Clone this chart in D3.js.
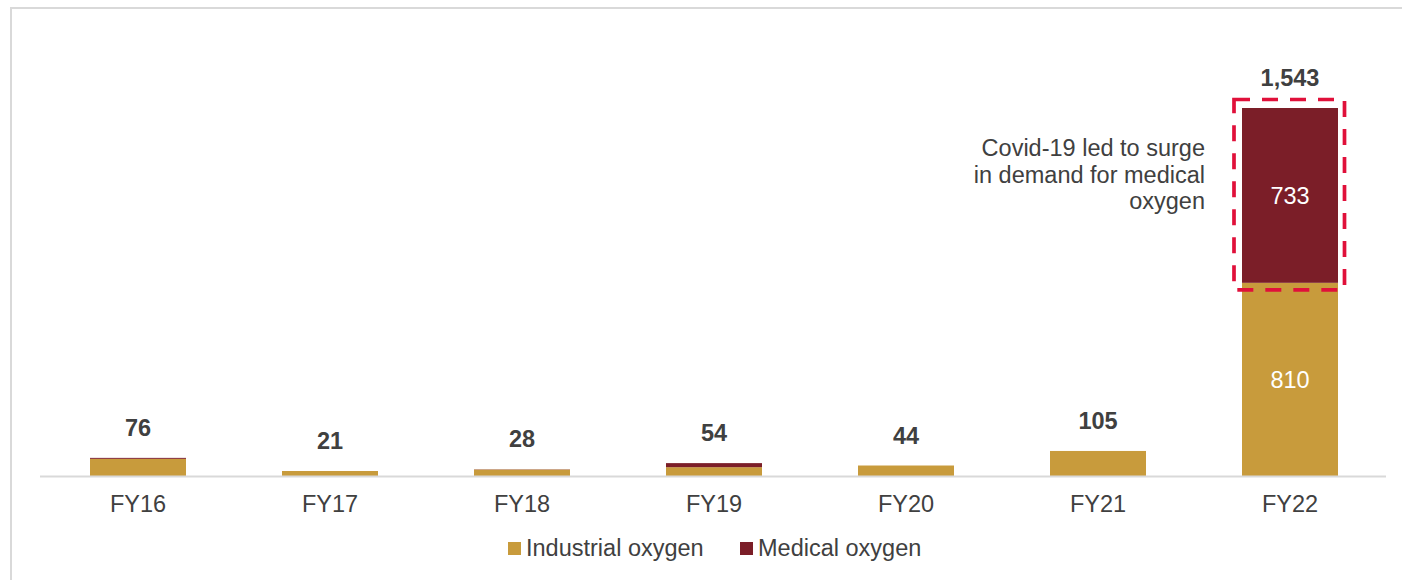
<!DOCTYPE html>
<html>
<head>
<meta charset="utf-8">
<script src="https://cdn.jsdelivr.net/npm/d3@7/dist/d3.min.js"></script>
<style>
  html, body { margin: 0; padding: 0; background: #fff; }
  svg { display: block; font-family: "Liberation Sans", Arial, sans-serif; }
</style>
</head>
<body>
<svg id="chart" width="1402" height="580"></svg>
<script>
// Oxygen demand by fiscal year, split by end use
const categories = ["FY16", "FY17", "FY18", "FY19", "FY20", "FY21", "FY22"];
const industrial = [72, 21, 27, 37, 44, 105, 810];
const medical    = [4, 0, 1, 17, 0, 0, 733];
const totals     = [76, 21, 28, 54, 44, 105, 1543];
const seriesNames = ["Industrial oxygen", "Medical oxygen"];
const colors = ["#C89B3C", "#7B1E28"];
const noteLines = ["Covid-19 led to surge", "in demand for medical", "oxygen"];

const svg = d3.select("#chart");
const W = 1402, H = 580;
const textColor = "#404040";

// light frame along the top and left edges
svg.append("path")
  .attr("d", `M11,${H + 2} L11,8 L${W + 4},8`)
  .attr("fill", "none")
  .attr("stroke", "#D9D9D9")
  .attr("stroke-width", 2);

const x = d3.scaleBand()
  .domain(categories)
  .range([42, 1386])
  .paddingInner(0.5)
  .paddingOuter(0.25);

const baseline = 476;
const y = d3.scaleLinear()
  .domain([0, 1543])
  .range([baseline, 108]);

const rows = categories.map((c, i) => ({ cat: c, ind: industrial[i], med: medical[i], total: totals[i] }));
const stack = d3.stack().keys(["ind", "med"])(rows);

svg.append("g")
  .selectAll("g")
  .data(stack)
  .join("g")
  .attr("fill", (d, i) => colors[i])
  .selectAll("rect")
  .data(d => d)
  .join("rect")
  .attr("x", d => x(d.data.cat))
  .attr("width", x.bandwidth())
  .attr("y", d => y(d[1]))
  .attr("height", d => y(d[0]) - y(d[1]));

// baseline axis
const axis = svg.append("g")
  .attr("transform", `translate(0,${baseline})`)
  .call(d3.axisBottom(x).tickSize(0).tickPadding(0));
axis.select(".domain")
  .attr("d", `M40,0.5H1386`)
  .attr("stroke", "#D9D9D9")
  .attr("stroke-width", 2);
axis.selectAll("text")
  .attr("dy", null)
  .attr("y", 36)
  .attr("fill", textColor)
  .style("font-size", "23.5px")
  .style("font-family", "'Liberation Sans', Arial, sans-serif");

// totals above bars
svg.append("g")
  .selectAll("text")
  .data(rows)
  .join("text")
  .attr("x", d => x(d.cat) + x.bandwidth() / 2)
  .attr("y", d => y(d.total) - 22)
  .attr("text-anchor", "middle")
  .attr("fill", textColor)
  .style("font-size", "23.5px")
  .style("font-weight", "bold")
  .text(d => d3.format(",")(d.total));

// segment values inside the FY22 bar
const big = rows[rows.length - 1];
const bx = x(big.cat) + x.bandwidth() / 2;
[[0, big.ind], [big.ind, big.ind + big.med]].forEach(([a, b]) => {
  svg.append("text")
    .attr("x", bx)
    .attr("y", (y(a) + y(b)) / 2 + 9)
    .attr("text-anchor", "middle")
    .attr("fill", "#fff")
    .style("font-size", "23.5px")
    .text(d3.format(",")(b - a));
});

// dashed highlight around the medical segment
const hlLeft = x(big.cat) - 8;
const hlRight = x(big.cat) + x.bandwidth() + 6.5;
const hlTop = y(big.total) - 8.5;
const hlBottom = y(big.ind) + 7;
svg.append("rect")
  .attr("x", hlLeft)
  .attr("y", hlTop)
  .attr("width", hlRight - hlLeft)
  .attr("height", hlBottom - hlTop)
  .attr("fill", "none")
  .attr("stroke", "#E0103A")
  .attr("stroke-width", 3.7)
  .attr("stroke-dasharray", "16,12");

// annotation
const note = svg.append("text")
  .attr("text-anchor", "end")
  .attr("fill", textColor)
  .style("font-size", "23.5px");
noteLines.forEach((t, i) => {
  note.append("tspan")
    .attr("x", 1205)
    .attr("y", 156 + i * 26.5)
    .text(t);
});

// legend
const legendX = [508, 740];
const legend = svg.append("g");
seriesNames.forEach((name, i) => {
  legend.append("rect")
    .attr("x", legendX[i])
    .attr("y", 542)
    .attr("width", 13)
    .attr("height", 13)
    .attr("fill", colors[i]);
  legend.append("text")
    .attr("x", legendX[i] + 18)
    .attr("y", 556)
    .attr("fill", textColor)
    .style("font-size", "23.5px")
    .text(name);
});
</script>
</body>
</html>
